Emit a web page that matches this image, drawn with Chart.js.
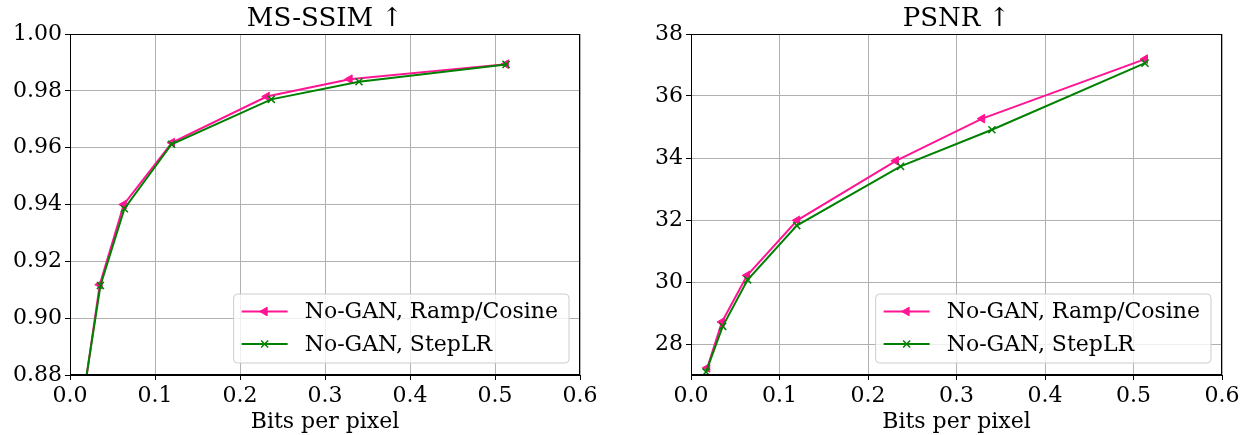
<!DOCTYPE html>
<html>
<head>
<meta charset="utf-8">
<title>Rate-distortion curves</title>
<script src="https://cdn.jsdelivr.net/npm/chart.js@4/dist/chart.umd.min.js"></script>
<style>
  html, body { margin: 0; padding: 0; background: #fff; }
  body { width: 1246px; height: 435px; position: relative; overflow: hidden; }
  canvas { position: absolute; top: 0; }
  #msssim { left: 0; }
  #psnr { left: 620px; }
</style>
</head>
<body>
<canvas id="msssim" width="615" height="435"></canvas>
<canvas id="psnr" width="626" height="435"></canvas>
<script>
// Bits per pixel of each trained model (shared by both metrics)
const rampBpp = [0.0184, 0.0350, 0.0633, 0.1200, 0.2315, 0.3290, 0.5130];
const stepBpp = [0.0170, 0.0358, 0.0640, 0.1195, 0.2368, 0.3400, 0.5130];

const rampMsssim = [0.8773, 0.9118, 0.9400, 0.9618, 0.9780, 0.9841, 0.9894];
const stepMsssim = [0.8750, 0.9115, 0.9385, 0.9612, 0.9770, 0.9832, 0.9893];

const rampPsnr = [27.23, 28.71, 30.21, 31.99, 33.91, 35.27, 37.19];
const stepPsnr = [27.10, 28.57, 30.07, 31.82, 33.73, 34.91, 37.06];

const seriesNames = ['No-GAN, Ramp/Cosine', 'No-GAN, StepLR'];

const bppTicks = [0, 0.1, 0.2, 0.3, 0.4, 0.5, 0.6];
const msssimTicks = [0.88, 0.90, 0.92, 0.94, 0.96, 0.98, 1.00];
const psnrTicks = [28, 30, 32, 34, 36, 38];

const FONT = 'DejaVu Serif';
const PINK = '#ff1493';
const GREEN = '#008000';
const GRID = '#b0b0b0';

const toPoints = (xs, ys) => xs.map((x, i) => ({ x, y: ys[i] }));

// Title centred over the plot area rather than the whole canvas
const plotTitlePlugin = {
  id: 'plotTitle',
  afterDraw(chart, args, opts) {
    const { ctx, chartArea: a } = chart;
    ctx.save();
    ctx.font = `26px "${FONT}"`;
    ctx.fillStyle = '#000';
    ctx.textAlign = 'center';
    ctx.textBaseline = 'alphabetic';
    ctx.fillText(opts.text, (a.left + a.right) / 2, a.top - 8);
    ctx.restore();
  },
};

// Black box around the plot area, drawn over the grid and curves
const framePlugin = {
  id: 'frame',
  afterDatasetsDraw(chart) {
    const { ctx, chartArea: a } = chart;
    ctx.save();
    ctx.strokeStyle = '#000';
    ctx.lineWidth = 1;
    ctx.strokeRect(Math.round(a.left) + 0.5, Math.round(a.top) + 0.5,
      Math.round(a.right - a.left) - 1, Math.round(a.bottom - a.top) - 1);
    ctx.restore();
  },
};

// Legend box in the lower right corner of the plot area
const insetLegendPlugin = {
  id: 'insetLegend',
  afterDraw(chart) {
    const { ctx, chartArea: a } = chart;
    const sets = chart.data.datasets.slice().sort((p, q) => p.legendIndex - q.legendIndex);
    ctx.save();
    ctx.font = `22px "${FONT}"`;
    const textW = Math.max(...sets.map(ds => ctx.measureText(ds.label).width));
    const rowH = 32.5;
    const w = textW + 82;
    const h = sets.length * rowH + 4;
    const x0 = a.right - 11 - w;
    const y0 = a.bottom - 12 - h;

    ctx.beginPath();
    ctx.roundRect(x0, y0, w, h, 4);
    ctx.fillStyle = 'rgba(255,255,255,0.8)';
    ctx.fill();
    ctx.strokeStyle = '#cccccc';
    ctx.lineWidth = 1;
    ctx.stroke();

    sets.forEach((ds, i) => {
      const cy = y0 + 17.5 + i * rowH;
      ctx.strokeStyle = ds.borderColor;
      ctx.lineWidth = ds.borderWidth;
      ctx.beginPath();
      ctx.moveTo(x0 + 8, cy);
      ctx.lineTo(x0 + 54, cy);
      ctx.stroke();
      ctx.fillStyle = ds.pointBackgroundColor;
      ctx.strokeStyle = ds.pointBorderColor;
      ctx.lineWidth = ds.pointBorderWidth;
      Chart.helpers.drawPoint(ctx, {
        pointStyle: ds.pointStyle,
        rotation: ds.pointRotation,
        radius: ds.pointRadius,
        borderWidth: ds.pointBorderWidth,
      }, x0 + 31, cy);
      ctx.fillStyle = '#000';
      ctx.textBaseline = 'middle';
      ctx.textAlign = 'left';
      ctx.fillText(ds.label, x0 + 71, cy + 1);
    });
    ctx.restore();
  },
};

function makeDatasets(rampVals, stepVals) {
  return [
    {
      label: seriesNames[0],
      legendIndex: 0,
      data: toPoints(rampBpp, rampVals),
      borderColor: PINK,
      backgroundColor: PINK,
      borderWidth: 2,
      pointStyle: 'triangle',
      pointRotation: -90,
      pointRadius: 5,
      pointBackgroundColor: PINK,
      pointBorderColor: PINK,
      pointBorderWidth: 1,
      order: 2,
    },
    {
      label: seriesNames[1],
      legendIndex: 1,
      data: toPoints(stepBpp, stepVals),
      borderColor: GREEN,
      backgroundColor: GREEN,
      borderWidth: 2,
      pointStyle: 'crossRot',
      pointRadius: 5,
      pointBackgroundColor: GREEN,
      pointBorderColor: GREEN,
      pointBorderWidth: 1.5,
      order: 1,
    },
  ];
}

function makeChart(canvas, title, yTicks, yMin, yMax, yDigits, yWidth, padRight, datasets) {
  const tickFont = { family: FONT, size: 22 };
  return new Chart(canvas, {
    type: 'line',
    data: { datasets },
    options: {
      responsive: false,
      animation: false,
      events: [],
      layout: { padding: { left: 0, right: padRight, top: 34, bottom: 0 } },
      elements: { line: { tension: 0 } },
      plugins: {
        legend: { display: false },
        tooltip: { enabled: false },
        title: { display: false },
        plotTitle: { text: title },
      },
      scales: {
        x: {
          type: 'linear',
          min: 0,
          max: 0.6,
          afterBuildTicks: s => { s.ticks = bppTicks.map(value => ({ value })); },
          afterFit: s => { s.height = 60; },
          ticks: {
            color: '#000',
            font: tickFont,
            padding: 3,
            maxRotation: 0,
            callback: v => v.toFixed(1),
          },
          grid: { color: GRID, lineWidth: 1, tickColor: '#000', tickLength: 5 },
          border: { color: '#000', width: 1 },
          title: {
            display: true,
            text: 'Bits per pixel',
            color: '#000',
            font: { family: FONT, size: 22 },
            padding: { top: 0, bottom: 0 },
          },
        },
        y: {
          type: 'linear',
          min: yMin,
          max: yMax,
          afterBuildTicks: s => { s.ticks = yTicks.map(value => ({ value })); },
          afterFit: s => { s.width = yWidth; },
          ticks: {
            color: '#000',
            font: tickFont,
            padding: 3,
            callback: v => v.toFixed(yDigits),
          },
          grid: { color: GRID, lineWidth: 1, tickColor: '#000', tickLength: 5 },
          border: { color: '#000', width: 1 },
        },
      },
    },
    plugins: [framePlugin, insetLegendPlugin, plotTitlePlugin],
  });
}

makeChart(document.getElementById('msssim'), 'MS-SSIM ↑', msssimTicks, 0.88, 1.00, 2, 70, 35,
  makeDatasets(rampMsssim, stepMsssim));
makeChart(document.getElementById('psnr'), 'PSNR ↑', psnrTicks, 27, 38, 0, 71, 24,
  makeDatasets(rampPsnr, stepPsnr));
</script>
</body>
</html>
